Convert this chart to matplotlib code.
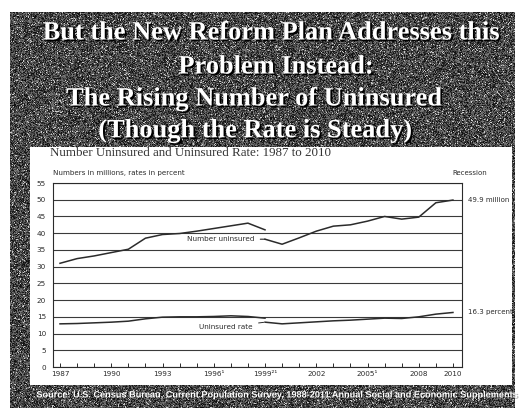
import numpy as np
import matplotlib
matplotlib.use("Agg")
import matplotlib.pyplot as plt
import matplotlib.patheffects as pe
from matplotlib.patches import Rectangle

W, H = 521, 408

title_lines = ["But the New Reform Plan Addresses this",
               "Problem Instead:",
               "The Rising Number of Uninsured",
               "(Though the Rate is Steady)"]
chart_title = "Number Uninsured and Uninsured Rate: 1987 to 2010"
units_note = "Numbers in millions, rates in percent"
source_note = ("Source: U.S. Census Bureau, Current Population Survey, "
               "1988-2011 Annual Social and Economic Supplements")

# first series (old method) and second series (1999 onward)
years_a = list(range(1987, 2000))
number_a = [31.0, 32.4, 33.2, 34.2, 35.2, 38.5, 39.6, 39.9, 40.6, 41.4, 42.2, 43.0, 41.0]
rate_a = [12.9, 13.0, 13.2, 13.4, 13.7, 14.4, 14.9, 15.0, 15.0, 15.1, 15.3, 15.1, 14.6]

years_b = list(range(1999, 2011))
number_b = [38.2, 36.7, 38.6, 40.6, 42.1, 42.5, 43.6, 45.0, 44.2, 44.8, 49.1, 49.9]
rate_b = [13.4, 12.9, 13.2, 13.5, 13.8, 14.0, 14.3, 14.6, 14.5, 15.0, 15.8, 16.3]

tick_years = [1987, 1990, 1993, 1996, 1999, 2002, 2005, 2008, 2010]
tick_labels = ["1987", "1990", "1993", "1996\u00b9", "1999\u00b2\u00b9",
               "2002", "2005\u00b9", "2008", "2010"]
y_ticks = list(range(0, 60, 5))

ink = "#2b2b2b"
sans = ["DejaVu Sans"]

fig = plt.figure(figsize=(W / 100, H / 100), dpi=100, facecolor="white")

# slide background in pixel coordinates
bg = fig.add_axes([0, 0, 1, 1])
rng = np.random.default_rng(11)
grain = 0.04 + 0.46 * rng.random((396, 505))
grain[rng.random(grain.shape) > 0.95] = 0.8
bg.imshow(grain, cmap="gray", vmin=0, vmax=1, extent=(10, 515, 408, 12),
          interpolation="nearest", aspect="auto", zorder=0)
bg.add_patch(Rectangle((30, 147), 482, 238, facecolor="white",
                       edgecolor="none", zorder=1))
bg.set_xlim(0, W)
bg.set_ylim(H, 0)
bg.axis("off")

shadow = [pe.withSimplePatchShadow(offset=(1.3, -1.3), shadow_rgbFace="black", alpha=1.0)]
for line, cx, cy in zip(title_lines, [271, 276, 254, 255], [33, 67, 99, 131]):
    bg.text(cx, cy, line, ha="center", va="center", fontsize=19,
            family="Liberation Serif", weight="bold", color="white",
            path_effects=shadow, zorder=3)

bg.text(50, 153, chart_title, ha="left", va="center", fontsize=9.4,
        family="Liberation Serif", color="#333333", zorder=3)
bg.text(53, 173, units_note, ha="left", va="center", fontsize=5.1,
        family=sans, color=ink, zorder=3)
bg.text(470, 173, "Recession", ha="center", va="center", fontsize=5,
        family=sans, color=ink, zorder=3)
bg.text(277, 395, source_note, ha="center", va="center", fontsize=6.6,
        family="Liberation Sans", weight="bold", color="white",
        path_effects=[pe.withSimplePatchShadow(offset=(0.8, -0.8),
                                               shadow_rgbFace="black")],
        zorder=3)

# chart
ax = fig.add_axes([53 / W, (H - 367) / H, (462 - 53) / W, (367 - 183) / H])
ax.set_facecolor("none")
ax.plot(years_a, number_a, color=ink, lw=1.1)
ax.plot(years_b, number_b, color=ink, lw=1.1)
ax.plot(years_a, rate_a, color=ink, lw=1.1)
ax.plot(years_b, rate_b, color=ink, lw=1.1)

ax.set_xlim(1986.59, 2010.53)
ax.set_ylim(0, 55)
ax.set_yticks(y_ticks)
ax.set_xticks(tick_years)
ax.set_xticklabels(tick_labels)
ax.set_xticks(range(1987, 2011), minor=True)
ax.grid(axis="y", color="#3a3a3a", lw=0.8)
ax.tick_params(axis="y", length=0, pad=5, labelsize=5.2, labelcolor=ink)
ax.tick_params(axis="x", which="both", direction="in", length=3, width=0.7,
               color=ink, pad=3, labelsize=5.2, labelcolor=ink)
for s in ax.spines.values():
    s.set_color(ink)
    s.set_linewidth(0.8)
for lab in ax.get_xticklabels() + ax.get_yticklabels():
    lab.set_family(sans)

ax.annotate("Number uninsured", xy=(years_b[0], number_b[0]),
            xytext=(1998.4, number_b[0]), ha="right", va="center",
            fontsize=5.2, color=ink, family=sans,
            arrowprops=dict(arrowstyle="-", color=ink, lw=0.8, shrinkA=2, shrinkB=0))
ax.annotate("Uninsured rate", xy=(years_b[0], rate_b[0]),
            xytext=(1998.3, 12.0), ha="right", va="center",
            fontsize=5.2, color=ink, family=sans,
            arrowprops=dict(arrowstyle="-", color=ink, lw=0.7, shrinkA=2, shrinkB=1))

ax.annotate(f"{number_b[-1]} million", xy=(1, number_b[-1]),
            xycoords=("axes fraction", "data"), xytext=(4, 0),
            textcoords="offset points", va="center", fontsize=5,
            color=ink, family=sans)
ax.annotate(f"{rate_b[-1]} percent", xy=(1, rate_b[-1]),
            xycoords=("axes fraction", "data"), xytext=(4, 0),
            textcoords="offset points", va="center", fontsize=5,
            color=ink, family=sans)

fig.savefig("out.png", dpi=100, facecolor="white")
